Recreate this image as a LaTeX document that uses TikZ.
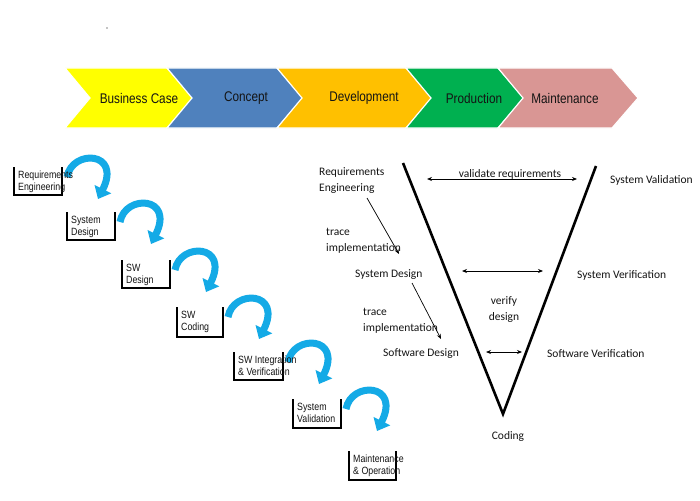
\documentclass[tikz,border=0pt]{standalone}
\usepackage{fontspec}
\setmainfont{Liberation Sans}
\newfontfamily\narrowfont[FakeStretch=0.84]{Liberation Sans}
\newfontfamily\calfont{Carlito}
\usetikzlibrary{arrows.meta}
\definecolor{cyellow}{RGB}{255,255,0}
\definecolor{cblue}{RGB}{79,129,189}
\definecolor{corange}{RGB}{255,192,0}
\definecolor{cgreen}{RGB}{0,176,80}
\definecolor{cpink}{RGB}{217,150,148}
\definecolor{curl}{RGB}{20,170,230}
\definecolor{ctext}{RGB}{20,20,20}
\tikzset{
  chev/.style={draw=white, line width=1.2pt},
  chevtext/.style={font=\narrowfont\fontsize{14}{16}\selectfont, text=ctext, inner sep=0pt},
  stairbox/.style={draw=black, line width=1.3pt},
  stairtext/.style={font=\narrowfont\fontsize{10.5}{12}\selectfont, align=left, anchor=north west, inner sep=0pt, text=ctext},
  curl/.style={draw=curl, line width=7pt, -{Triangle[width=18pt,length=11pt]}},
  vline/.style={line width=2.6pt, black},
  vtext/.style={font=\calfont\fontsize{11.5}{16}\selectfont, inner sep=0pt, text=ctext},
  thinarrow/.style={line width=0.7pt, -{Stealth[length=5pt,width=4pt]}},
  dblarrow/.style={line width=0.8pt, {Stealth[length=5pt,width=4pt]}-{Stealth[length=5pt,width=4pt]}},
}
\newcommand{\chevron}[3]{%
  \fill[#3] (#1,68) -- (#2,68) -- (#2+26,98) -- (#2,128) -- (#1,128) -- (#1+25,98) -- cycle;
  \draw[chev] (#1,68) -- (#2,68) -- (#2+26,98) -- (#2,128) -- (#1,128) -- (#1+25,98) -- cycle;}
\newcommand{\stair}[6]{% left, top, right, bottom, name, text
  \draw[stairbox] (#1,#2) -- (#1,#4) -- (#3,#4) -- (#3,#2);
  \node[stairtext] (#5) at (#1+4,#2+4) {#6};}
\newcommand{\curlarrow}[2]{% right, top
  \draw[curl] (#1+5,#2+10) .. controls (#1+10,#2-18) and (#1+60,#2-16) .. (#1+36,#2+32);}
\begin{document}
\begin{tikzpicture}[x=1pt,y=-1pt]
\fill[white] (0,0) rectangle (700,500);
\useasboundingbox (0,0) rectangle (700,500);
\fill[black] (107,28) circle (0.7);
% chevrons
\chevron{65}{167}{cyellow}
\chevron{167}{277}{cblue}
\chevron{277}{406}{corange}
\chevron{406}{498}{cgreen}
\chevron{498}{612}{cpink}
\node[chevtext] (bc) at (139,98) {Business Case};
\node[chevtext] (co) at (246,98) {Concept};
\node[chevtext] (de) at (364,98) {Development};
\node[chevtext] (pr) at (474,98) {Production};
\node[chevtext] (ma) at (565,98) {Maintenance};
% staircase arrows (behind the texts)
\curlarrow{62}{167}
\curlarrow{115}{212}
\curlarrow{170}{260}
\curlarrow{223}{307}
\curlarrow{283}{352}
\curlarrow{341}{399}
% staircase boxes
\stair{14}{167}{62}{195}{s1}{Requirements\\Engineering}
\stair{67}{212}{115}{240}{s2}{System\\Design}
\stair{122}{260}{170}{288}{s3}{SW\\Design}
\stair{177}{307}{223}{337}{s4}{SW\\Coding}
\stair{234}{352}{283}{380}{s5}{SW Integration\\\& Verification}
\stair{293}{399}{341}{428}{s6}{System\\Validation}
\stair{349}{451}{396}{480}{s7}{Maintenance\\\& Operation}
% V diagram
\coordinate (vl) at (403,163);
\coordinate (vb) at (503,414);
\coordinate (vr) at (596,166);
\draw[vline] (vl) -- (vb) -- (vr);
\node[vtext, align=left, anchor=west] (req) at (319,181) {Requirements\\Engineering};
\node[vtext, anchor=base] (valr) at (510,177) {validate requirements};
\node[vtext, anchor=west] (sysval) at (610,180) {System Validation};
\coordinate (va1) at (427,179);
\coordinate (va2) at (577,179);
\draw[dblarrow] (va1) -- (va2);
\node[vtext, align=left, anchor=west] (ti1) at (326,241) {trace\\implementation};
\node[vtext, anchor=west] (sysd) at (355,275) {System Design};
\node[vtext, anchor=west] (sysver) at (577,275) {System Verification};
\coordinate (vm1) at (462,271);
\coordinate (vm2) at (543,271);
\draw[dblarrow] (vm1) -- (vm2);
\node[vtext, align=left, anchor=west] (ti2) at (363,321) {trace\\implementation};
\node[vtext, align=center] (vd) at (504,310) {verify\\design};
\node[vtext, anchor=west] (swd) at (383,354) {Software Design};
\node[vtext, anchor=west] (swv) at (547,354) {Software Verification};
\coordinate (vs1) at (486,352);
\coordinate (vs2) at (522,352);
\draw[dblarrow] (vs1) -- (vs2);
\node[vtext] (cod) at (508,436) {Coding};
\coordinate (t1a) at (367,198);
\coordinate (t1b) at (399,254);
\draw[thinarrow] (t1a) -- (t1b);
\coordinate (t2a) at (412,283);
\coordinate (t2b) at (441,339);
\draw[thinarrow] (t2a) -- (t2b);
\end{tikzpicture}
\end{document}
